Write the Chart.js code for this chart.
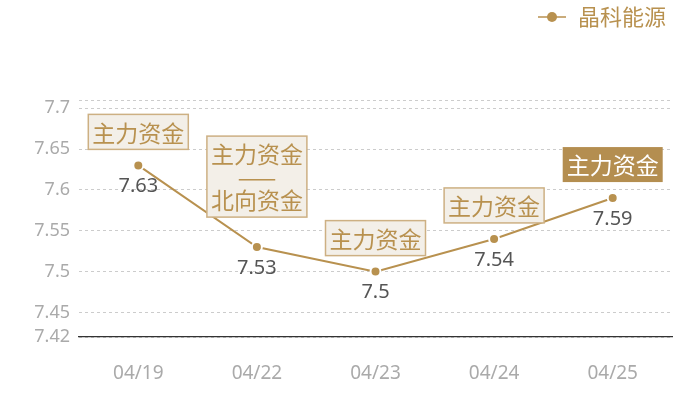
<!DOCTYPE html>
<html>
<head>
<meta charset="utf-8">
<script src="https://cdn.jsdelivr.net/npm/chart.js@4.4.1/dist/chart.umd.min.js"></script>
<style>
  html, body { margin: 0; padding: 0; background: #fff; }
  #wrap { width: 700px; height: 400px; }
</style>
</head>
<body>
<div id="wrap"><canvas id="myChart" width="700" height="400"></canvas></div>
<script>
const dates = ['04/19', '04/22', '04/23', '04/24', '04/25']
const prices = [7.63, 7.53, 7.5, 7.54, 7.59]
const yTicks = [7.42, 7.45, 7.5, 7.55, 7.6, 7.65, 7.7, 7.71]
const flagLabels = [
    ['主力资金'],
    ['主力资金', '——', '北向资金'],
    ['主力资金'],
    ['主力资金'],
    ['主力资金']
]
const flagHighlight = [false, false, false, false, true]

const gold = '#b8914f'
const cjk = '"Noto Sans CJK SC", "Noto Sans", sans-serif'
const num = '"Noto Sans", "Noto Sans CJK SC", sans-serif'

// legend marker: short line with a dot in the middle
const marker = document.createElement('canvas')
marker.width = 30
marker.height = 12
const mctx = marker.getContext('2d')
mctx.strokeStyle = gold
mctx.lineWidth = 1.5
mctx.beginPath()
mctx.moveTo(1, 6)
mctx.lineTo(29, 6)
mctx.stroke()
mctx.fillStyle = gold
mctx.beginPath()
mctx.arc(15, 6, 5, 0, Math.PI * 2)
mctx.fill()

const legendHeight = {
    id: 'legendHeight',
    beforeInit(chart) {
        const orig = chart.legend.fit
        chart.legend.fit = function () {
            orig.bind(chart.legend)()
            this.height = 100
        }
    }
}

const flags = {
    id: 'flags',
    afterDatasetsDraw(chart) {
        const ctx = chart.ctx
        const meta = chart.getDatasetMeta(0)
        ctx.save()
        // value labels under each point
        ctx.font = '20px ' + num
        ctx.fillStyle = '#555'
        ctx.textAlign = 'center'
        ctx.textBaseline = 'middle'
        meta.data.forEach((pt, i) => {
            ctx.fillText(String(prices[i]), pt.x, pt.y + 21)
        })
        // boxes above each point
        ctx.font = '23px ' + cjk
        const lineH = 23
        meta.data.forEach((pt, i) => {
            const lines = flagLabels[i]
            const w = Math.max(...lines.map(t => ctx.measureText(t).width)) + 8
            const h = lines.length * lineH + 12
            const gap = lines.length > 1 ? 30 : 16
            const x = pt.x - w / 2
            const y = pt.y - gap - h
            if (flagHighlight[i]) {
                ctx.fillStyle = '#b48e50'
                ctx.fillRect(x, y, w, h)
            } else {
                ctx.fillStyle = '#f3efe8'
                ctx.fillRect(x, y, w, h)
                ctx.strokeStyle = '#cdb083'
                ctx.lineWidth = 1.5
                ctx.strokeRect(x, y, w, h)
            }
            ctx.fillStyle = flagHighlight[i] ? '#fff' : gold
            lines.forEach((t, j) => {
                ctx.fillText(t, pt.x, y + 6 + lineH * j + lineH / 2 + 1)
            })
        })
        ctx.restore()
    }
}

const chart = new Chart(document.getElementById('myChart'), {
    type: 'line',
    data: {
        labels: dates,
        datasets: [{
            label: '晶科能源',
            data: prices,
            borderColor: gold,
            backgroundColor: gold,
            borderWidth: 2,
            pointRadius: 5,
            pointBackgroundColor: gold,
            pointBorderColor: '#fff',
            pointBorderWidth: 2,
            tension: 0
        }]
    },
    options: {
        responsive: false,
        animation: false,
        layout: { padding: { left: 0, right: 28, top: 0, bottom: 0 } },
        plugins: {
            tooltip: { enabled: false },
            legend: {
                position: 'top',
                align: 'end',
                labels: {
                    usePointStyle: true,
                    pointStyle: marker,
                    pointStyleWidth: 30,
                    color: gold,
                    padding: 6,
                    font: { size: 22, family: cjk }
                }
            }
        },
        scales: {
            x: {
                offset: true,
                grid: { display: true, color: 'rgba(0,0,0,0)', drawTicks: false },
                border: { display: true, color: '#333', width: 1.2 },
                ticks: { color: '#aaa', padding: 25, font: { size: 19, family: num } },
                afterFit(scale) { scale.height = 63 }
            },
            y: {
                min: 7.42,
                max: 7.71,
                grid: { color: '#ccc', drawTicks: false },
                border: { display: false, dash: [3, 3] },
                afterBuildTicks(scale) {
                    scale.ticks = yTicks.map(v => ({ value: v }))
                },
                afterFit(scale) { scale.width = 79 },
                ticks: {
                    autoSkip: false,
                    color: '#aaa',
                    padding: 9,
                    font: { size: 18, family: num },
                    callback: (v) => v === 7.71 ? '' : String(v)
                }
            }
        }
    },
    plugins: [legendHeight, flags]
})
</script>
</body>
</html>
